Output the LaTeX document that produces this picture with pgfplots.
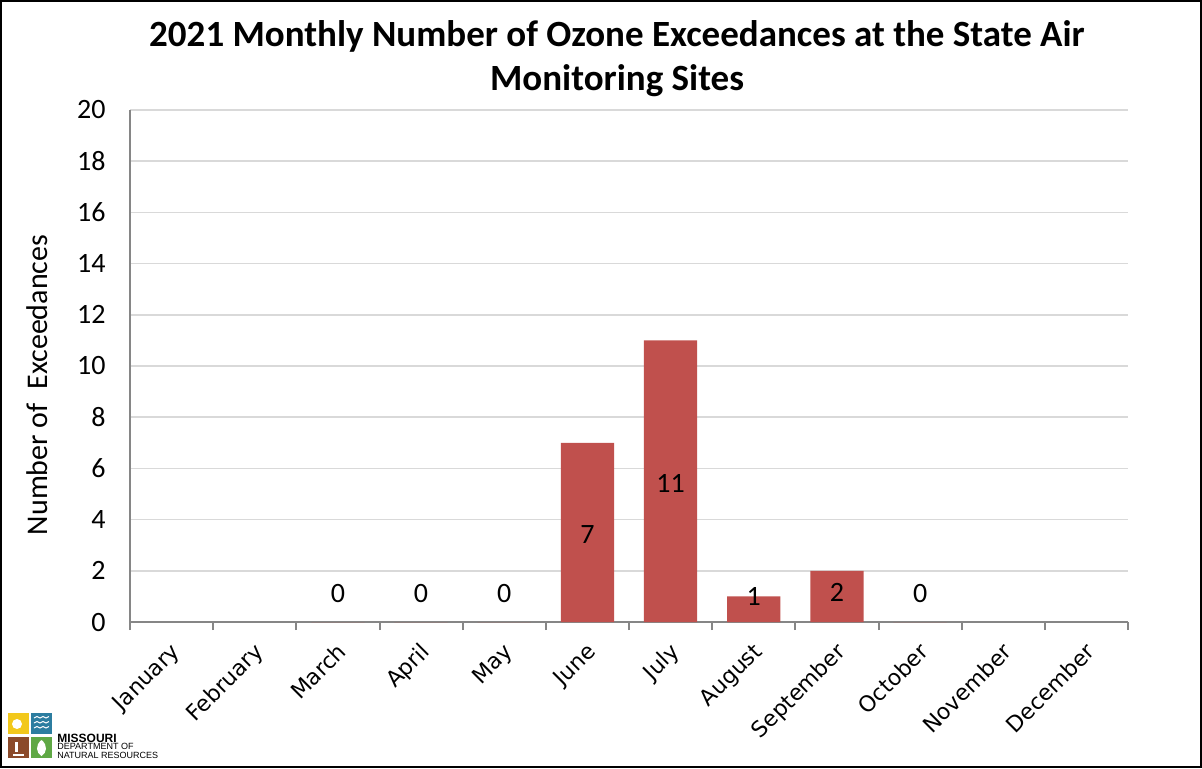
\documentclass[border=0pt]{standalone}
\usepackage{pgfplots}
\pgfplotsset{compat=1.18}
\usepackage{fontspec}
\setmainfont{Carlito}
\newfontfamily\logofont{Liberation Sans}
\newfontfamily\dejavu{DejaVu Sans}
\definecolor{barred}{HTML}{C0504D}
\definecolor{axgray}{HTML}{868686}
\definecolor{gridgray}{HTML}{D9D9D9}
\definecolor{lyellow}{HTML}{F2C81B}
\definecolor{lblue}{HTML}{2C7DA0}
\definecolor{lbrown}{HTML}{8B4A2A}
\definecolor{lgreen}{HTML}{5FA845}
\begin{document}
\begin{tikzpicture}
\useasboundingbox (0,0) rectangle (601pt,384pt);
\begin{scope}[x=0.5pt,y=-0.5pt,shift={(0,384pt)}]
\draw[black, line width=1pt] (1,1) rectangle (1201,767);
\node[anchor=base, inner sep=0pt, font=\bfseries\fontsize{18.5}{22}\selectfont] at (617,47)
  {2021 Monthly Number of Ozone Exceedances at the State Air};
\node[anchor=base, inner sep=0pt, font=\bfseries\fontsize{18.5}{22}\selectfont] at (617,90)
  {Monitoring Sites};
% logo
\fill[lyellow] (8,713) rectangle (29,734);
\fill[lblue] (31,713) rectangle (52,734);
\fill[lbrown] (8,737) rectangle (29,758);
\fill[lgreen] (31,737) rectangle (52,758);
\fill[white] (17,724) circle (5);
\foreach \yy in {718,723,728}{\draw[white, line width=0.5pt] (34,\yy) sin (37,\yy-1.5) cos (40,\yy) sin (43,\yy-1.5) cos (46,\yy) sin (49,\yy-1.5);}
\fill[white] (41.5,740) .. controls (48,745) and (47,753) .. (41.5,756) .. controls (36,753) and (35,745) .. (41.5,740);
\fill[white] (13,754) rectangle (24,756);
\fill[white] (15,742) rectangle (18,752);
\node[anchor=base west, inner sep=0pt, font=\logofont\bfseries\fontsize{6}{6}\selectfont] at (57,742) {MISSOURI};
\node[anchor=base west, inner sep=0pt, font=\logofont\fontsize{4.5}{5}\selectfont] at (57,749) {DEPARTMENT OF};
\node[anchor=base west, inner sep=0pt, font=\logofont\fontsize{4.5}{5}\selectfont] at (57,758) {NATURAL RESOURCES};
\end{scope}
\begin{axis}[
  at={(65pt,73pt)}, anchor=south west,
  scale only axis, width=499pt, height=256pt,
  xmin=-0.5, xmax=11.5, ymin=0, ymax=20,
  axis lines*=left,
  axis line style={axgray, line width=1pt},
  ytick={0,2,...,20},
  ymajorgrids, grid style={gridgray, line width=0.8pt},
  xtick={0,...,11},
  xticklabels={January,February,March,April,May,June,July,August,September,October,November,December},
  minor xtick={-0.5,0.5,...,11.5},
  major tick length=0pt, minor tick length=4pt,
  xtick align=outside,
  tick style={axgray, line width=1pt},
  /pgf/number format/assume math mode=true,
  yticklabel style={font=\fontsize{14}{16}\selectfont, anchor=east, inner sep=0pt, xshift=-12pt},
  xticklabel style={font=\dejavu\fontsize{11}{13}\selectfont, inner sep=0pt, xshift=-1pt, yshift=-9.5pt, rotate=45, anchor=north east},
  ylabel={Number of\ \ Exceedances},
  ylabel style={at={(axis description cs:-0.093,0.463)}, anchor=center, font=\fontsize{15}{17}\selectfont},
  clip=false,
]
\addplot[ybar, bar width=0.64, fill=barred, draw=none]
  coordinates {(2,0) (3,0) (4,0) (5,7) (6,11) (7,1) (8,2) (9,0)};
\addplot[draw=none, mark=none, nodes near coords, point meta=explicit symbolic,
  every node near coord/.style={anchor=center, font=\fontsize{14}{16}\selectfont, text=black}]
  coordinates {(2,1.1)[0] (3,1.1)[0] (4,1.1)[0] (5,3.4)[7] (6,5.43)[11] (7,1.0)[1] (8,1.15)[2] (9,1.1)[0]};
\end{axis}
\end{tikzpicture}
\end{document}
